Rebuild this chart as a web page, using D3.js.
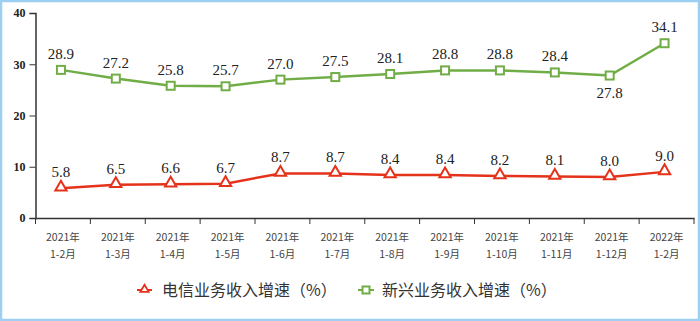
<!DOCTYPE html>
<html><head><meta charset="utf-8">
<script src="https://cdn.jsdelivr.net/npm/d3@7"></script>
<style>html,body{margin:0;padding:0;background:#fff;}svg{display:block;}</style>
</head><body>
<svg id="c" width="700" height="321"></svg>
<script>
const categoriesYear = ["2021年","2021年","2021年","2021年","2021年","2021年","2021年","2021年","2021年","2021年","2021年","2022年"];
const categoriesMonth = ["1-2月","1-3月","1-4月","1-5月","1-6月","1-7月","1-8月","1-9月","1-10月","1-11月","1-12月","1-2月"];
const telecom = [5.8,6.5,6.6,6.7,8.7,8.7,8.4,8.4,8.2,8.1,8.0,9.0];
const emerging = [28.9,27.2,25.8,25.7,27.0,27.5,28.1,28.8,28.8,28.4,27.8,34.1];
const yTicks = [0,10,20,30,40];
const seriesNames = ["电信业务收入增速（%）","新兴业务收入增速（%）"];

(function(){
const svg = d3.select("#c");
const W=700,H=321;
svg.append("rect").attr("x",1).attr("y",1).attr("width",W-2).attr("height",H-2)
  .attr("fill","#fff").attr("stroke","#9ccff2").attr("stroke-width",2.5);

const pl=35.5, pr=694, pt=13, pb=218;
const idx = d3.range(categoriesMonth.length);
const x = d3.scaleBand().domain(idx).range([pl,pr]);
const y = d3.scaleLinear().domain([0,40]).range([pb,pt]);

// y axis
const ya = svg.append("g").attr("transform",`translate(${pl},0)`)
  .call(d3.axisLeft(y).tickValues(yTicks).tickSize(6).tickPadding(4));
ya.select(".domain").attr("stroke","#333").attr("stroke-width",1.5);
ya.selectAll(".tick line").attr("stroke","#333");
ya.selectAll("text").attr("font-family","'Liberation Serif',serif").attr("font-weight","bold")
  .attr("font-size",12).attr("fill","#222");

// x axis
const xa = svg.append("g").attr("transform",`translate(0,${pb})`)
  .call(d3.axisBottom(x).tickSize(0).tickFormat(""));
xa.select(".domain").attr("stroke","#333").attr("stroke-width",1.5);
const edges = idx.map(i=>x(i)).concat([pr]);
svg.append("g").selectAll("line").data(edges).join("line")
  .attr("x1",d=>d).attr("x2",d=>d).attr("y1",pb).attr("y2",pb+6)
  .attr("stroke","#333").attr("stroke-width",1);
const xl = svg.append("g").selectAll("text").data(idx).join("text")
  .attr("x",i=>x(i)+x.bandwidth()/2).attr("text-anchor","middle")
  .attr("font-family","'Noto Sans CJK SC',sans-serif").attr("font-size",10.5).attr("fill","#444");
xl.append("tspan").attr("x",i=>x(i)+x.bandwidth()/2).attr("y",241).text(i=>categoriesYear[i]);
xl.append("tspan").attr("x",i=>x(i)+x.bandwidth()/2).attr("y",258).text(i=>categoriesMonth[i]);

const cx = i=>x(i)+x.bandwidth()/2 - 2;
const red="#e5321a", green="#70ad47";
const line = d3.line().x((d,i)=>cx(i)).y(d=>y(d));

function drawSeries(data,color,shape,labelBelow){
  svg.append("path").datum(data).attr("d",line).attr("fill","none")
    .attr("stroke",color).attr("stroke-width",2.5);
  const g = svg.append("g");
  if(shape==="tri"){
    g.selectAll("path").data(data).join("path")
      .attr("d",d3.symbol(d3.symbolTriangle,55))
      .attr("transform",(d,i)=>`translate(${cx(i)},${y(d)-1})`)
      .attr("fill","#fff").attr("stroke",color).attr("stroke-width",2);
  } else {
    g.selectAll("rect").data(data).join("rect")
      .attr("x",(d,i)=>cx(i)-4).attr("y",d=>y(d)-4).attr("width",8).attr("height",8)
      .attr("fill","#fff").attr("stroke",color).attr("stroke-width",2);
  }
  svg.append("g").selectAll("text").data(data).join("text")
    .attr("x",(d,i)=>cx(i)).attr("y",(d,i)=>labelBelow(i)? y(d)+22 : y(d)-11)
    .attr("text-anchor","middle").attr("font-family","'Liberation Serif',serif")
    .attr("font-size",15).attr("fill","#222").text(d=>d.toFixed(1));
}
drawSeries(telecom,red,"tri",()=>false);
drawSeries(emerging,green,"sq",i=>i===10);

// legend
const lg = svg.append("g");
lg.append("line").attr("x1",137).attr("x2",152).attr("y1",290).attr("y2",290).attr("stroke",red).attr("stroke-width",2);
lg.append("path").attr("d",d3.symbol(d3.symbolTriangle,30)).attr("transform","translate(144.5,289.5)")
  .attr("fill","#fff").attr("stroke",red).attr("stroke-width",1.8);
lg.append("text").attr("x",162).attr("y",296).attr("font-family","'Noto Sans CJK SC',sans-serif")
  .attr("font-size",16).attr("fill","#333").text(seriesNames[0]);
lg.append("line").attr("x1",358).attr("x2",374).attr("y1",290).attr("y2",290).attr("stroke",green).attr("stroke-width",2);
lg.append("rect").attr("x",362.5).attr("y",286.5).attr("width",7).attr("height",7)
  .attr("fill","#fff").attr("stroke",green).attr("stroke-width",2);
lg.append("text").attr("x",382).attr("y",296).attr("font-family","'Noto Sans CJK SC',sans-serif")
  .attr("font-size",16).attr("fill","#333").text(seriesNames[1]);
})();
</script>
</body></html>
